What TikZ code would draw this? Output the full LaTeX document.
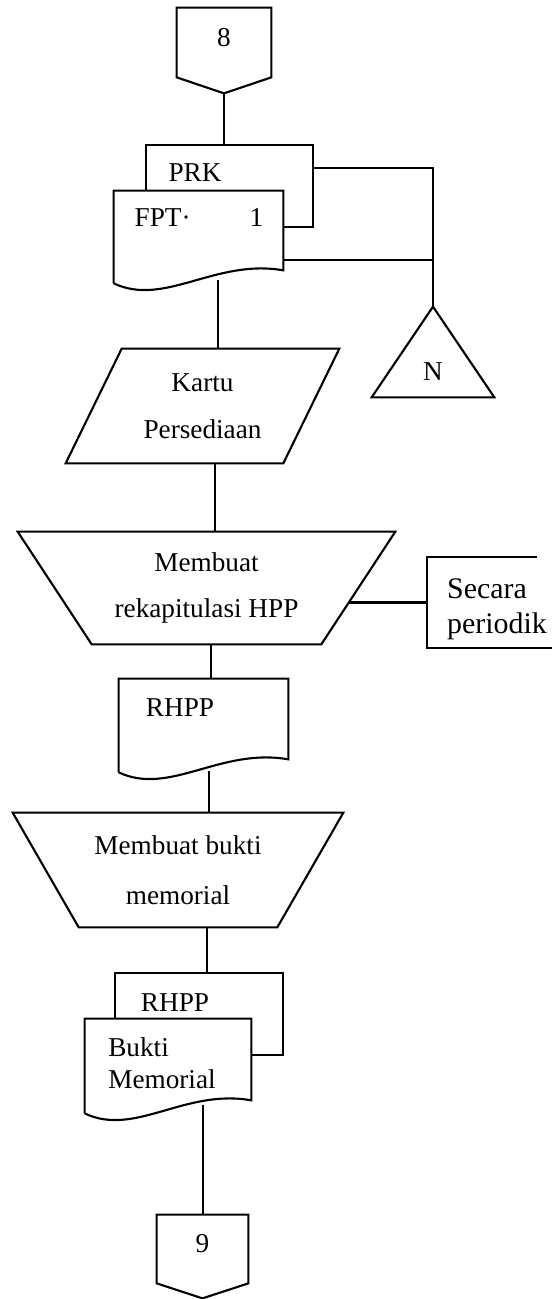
\documentclass[tikz,border=0pt]{standalone}
\usepackage{fontspec}
\setmainfont{Liberation Serif}
\usetikzlibrary{calc}

\tikzset{
  garis/.style={line width=1.2pt},
  bentuk/.style={rectangle, inner sep=0pt, align=center, font=\fontsize{15.5}{26.5}\selectfont},
  konektor/.style={bentuk, text depth=6pt},
  teks/.style={inner sep=0pt, anchor=center, align=left, font=\fontsize{15.5}{18}\selectfont}
}

\begin{document}
\begin{tikzpicture}[x=0.02cm,y=-0.02cm]
\useasboundingbox (0,0) rectangle (552,1299);
%% shapes
\node[konektor, minimum width=1.88cm, minimum height=1.38cm] (k8) at (224,42.5) {8};
\node[bentuk, minimum width=3.34cm, minimum height=1.64cm,
  label={[teks,name=prkT,shift={(-34.5,-13)}]center:PRK}] (prk) at (229.5,186) {};
\node[bentuk, minimum width=3.38cm, minimum height=1.84cm,
  label={[teks,name=fptT,shift={(0.5,-19)}]center:FPT·\hspace{1.18cm}1}] (fpt) at (198.5,237) {};
\node[bentuk, minimum width=2.44cm, minimum height=1.8cm,
  label={[teks,name=triT,shift={(0,20)}]center:N}] (tri) at (433,352) {};
\node[bentuk, minimum width=5.46cm, minimum height=2.28cm] (kartu) at (202.5,406) {Kartu\\Persediaan};
\node[bentuk, minimum width=7.54cm, minimum height=2.24cm] (trap1) at (206.5,588) {Membuat\\rekapitulasi HPP};
\node[bentuk, minimum width=2.5cm, minimum height=1.82cm,
  label={[teks,name=secT,font=\fontsize{17}{20}\selectfont,shift={(7.5,7)}]center:Secara\\periodik}] (sec) at (489.5,602.5) {};
\node[bentuk, minimum width=3.38cm, minimum height=1.86cm,
  label={[teks,name=rhppT,shift={(-23.5,-17.5)}]center:RHPP}] (rhpp) at (203.5,725.5) {};
\node[bentuk, minimum width=6.6cm, minimum height=2.28cm,
  font=\fontsize{15.5}{28.5}\selectfont] (trap2) at (178,870) {Membuat bukti\\memorial};
\node[bentuk, minimum width=3.36cm, minimum height=1.64cm,
  label={[teks,name=rhpp2T,shift={(-24,-11)}]center:RHPP}] (rhpp2) at (199,1014) {};
\node[bentuk, minimum width=3.32cm, minimum height=1.88cm,
  label={[teks,name=buktiT,shift={(-6,-3)}]center:Bukti\\Memorial}] (bukti) at (168,1066) {};
\node[konektor, minimum width=1.82cm, minimum height=1.36cm] (k9) at (202.5,1249) {9};

%% outlines
\draw[garis] (k8.north west) -- (k8.north east) -- (k8.south east)
  -- ($(k8.south)+(0,16)$) coordinate (k8tip) -- (k8.south west) -- cycle;
\draw[garis] (prk.west |- fpt.north) -- (prk.north west) -- (prk.north east)
  -- (prk.south east) -- (prk.south -| fpt.east);
\draw[garis] (fpt.south west) -- (fpt.north west) -- (fpt.north east) -- ($(fpt.south east)+(0,-13)$)
  .. controls ($(fpt.south west)!0.6!(fpt.south east)+(0,-25)$) and ($(fpt.south west)!0.3!(fpt.south east)+(0,24)$) .. (fpt.south west);
\draw[garis] (tri.north) -- (tri.south east) -- (tri.south west) -- cycle;
\draw[garis] ($(kartu.north west)+(56,0)$) -- (kartu.north east)
  -- ($(kartu.south east)+(-56,0)$) -- (kartu.south west) -- cycle;
\draw[garis] (trap1.north west) -- (trap1.north east)
  -- ($(trap1.south east)+(-74,0)$) -- ($(trap1.south west)+(74,0)$) -- cycle;
\draw[garis] ($(sec.north west)+(110,0)$) -- (sec.north west) -- (sec.south west) -- (sec.south east);
\draw[garis] (rhpp.south west) -- (rhpp.north west) -- (rhpp.north east) -- ($(rhpp.south east)+(0,-13)$)
  .. controls ($(rhpp.south west)!0.6!(rhpp.south east)+(0,-25)$) and ($(rhpp.south west)!0.3!(rhpp.south east)+(0,24)$) .. (rhpp.south west);
\draw[garis] (trap2.north west) -- (trap2.north east)
  -- ($(trap2.south east)+(-66,0)$) -- ($(trap2.south west)+(66,0)$) -- cycle;
\draw[garis] (rhpp2.west |- bukti.north) -- (rhpp2.north west) -- (rhpp2.north east)
  -- (rhpp2.south east) -- (rhpp2.south -| bukti.east);
\draw[garis] (bukti.south west) -- (bukti.north west) -- (bukti.north east) -- ($(bukti.south east)+(0,-13)$)
  .. controls ($(bukti.south west)!0.6!(bukti.south east)+(0,-25)$) and ($(bukti.south west)!0.3!(bukti.south east)+(0,24)$) .. (bukti.south west);
\draw[garis] (k9.north west) -- (k9.north east) -- (k9.south east)
  -- ($(k9.south)+(0,15)$) -- (k9.south west) -- cycle;

%% connectors
\draw[garis] (k8tip) -- (k8tip |- prk.north);
\draw[garis] ($(prk.north east)+(0,23)$) -| (tri.north);
\draw[garis] ($(fpt.north east)+(0,69)$) coordinate (fptR) -- (fptR -| tri.north);
\draw[garis] ($(fpt.south)+(19.5,-3)$) coordinate (fptB) -- (fptB |- kartu.north);
\draw[garis] ($(kartu.south)+(12.5,0)$) coordinate (kB) -- (kB |- trap1.north);
\draw[garis] (sec.west) -- ($(trap1.east)+(-46,14.5)$);
\draw[garis] ($(trap1.south)+(4.5,0)$) coordinate (t1B) -- (t1B |- rhpp.north);
\draw[garis] ($(rhpp.south)+(5.5,-1)$) coordinate (rB) -- (rB |- trap2.north);
\draw[garis] ($(trap2.south)+(29,0)$) coordinate (t2B) -- (t2B |- rhpp2.north);
\draw[garis] ($(bukti.south)+(35,-8)$) coordinate (bB) -- (bB |- k9.north);
\end{tikzpicture}
\end{document}
